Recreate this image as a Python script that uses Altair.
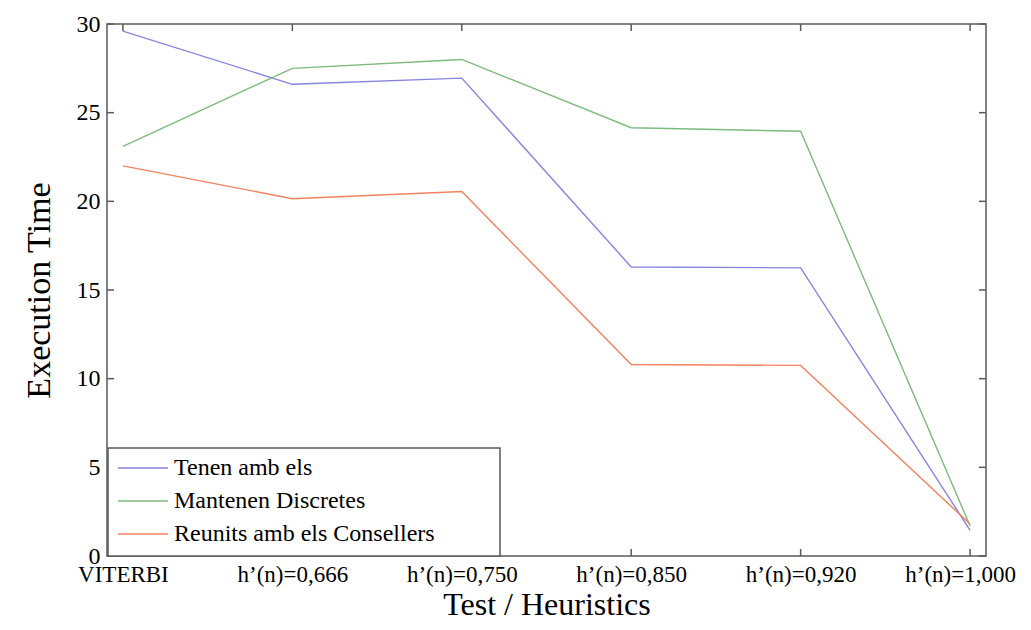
import altair as alt
import pandas as pd

categories = ["VITERBI", "h\u2019(n)=0,666", "h\u2019(n)=0,750", "h\u2019(n)=0,850", "h\u2019(n)=0,920", "h\u2019(n)=1,000"]
series_names = ["Tenen amb els", "Mantenen Discretes", "Reunits amb els Consellers"]
tenen = [29.6, 26.6, 26.95, 16.3, 16.25, 1.45]
mantenen = [23.1, 27.5, 28.0, 24.15, 23.95, 1.7]
reunits = [22.0, 20.15, 20.55, 10.8, 10.75, 1.8]
colors = ["#8585e0", "#7dba7d", "#f3825e"]
yticks = [0, 5, 10, 15, 20, 25, 30]

rows = []
for name, vals in zip(series_names, [tenen, mantenen, reunits]):
    for c, v in zip(categories, vals):
        rows.append({"test": c, "time": v, "series": name})
df = pd.DataFrame(rows)
cat_df = pd.DataFrame({"test": categories})
ytick_df = pd.DataFrame({"v": yticks})

W, H = 879, 532
FONT = "Liberation Serif"
TICK = 7
FRAME = "#595959"

xscale = alt.Scale(type="point", domain=categories, padding=0.094)
yscale = alt.Scale(domain=[0, 30], nice=False)

# legend frame (decoration)
legend_box = alt.Chart(cat_df.head(1)).mark_rect(fill="white", stroke=FRAME, strokeWidth=1.5).encode(
    x=alt.value(1), x2=alt.value(393), y=alt.value(424), y2=alt.value(H))

last_label_test = "datum.value === '" + categories[-1] + "'"

lines = alt.Chart(df).mark_line(strokeWidth=1.4).encode(
    x=alt.X("test:N", scale=xscale, sort=categories,
            axis=alt.Axis(title="Test / Heuristics", labelAngle=0, labelAlign="center",
                          labelBound=False, labelFlush=False, labelOverlap=False,
                          labelOffset={"condition": {"test": last_label_test, "value": -10}, "value": 0},
                          ticks=False, domain=False,
                          labelPadding=18, labelFontSize=23, titleFontSize=32,
                          titleBaseline="alphabetic", titleY=58,
                          labelFont=FONT, titleFont=FONT, titleFontWeight="normal",
                          labelColor="black", titleColor="black")),
    y=alt.Y("time:Q", scale=yscale,
            axis=alt.Axis(title="Execution Time", values=yticks, ticks=False, domain=False,
                          grid=False, labelPadding=7, titlePadding=20, labelFontSize=24,
                          titleFontSize=34, labelFont=FONT, titleFont=FONT,
                          titleFontWeight="normal", labelColor="black", titleColor="black")),
    color=alt.Color("series:N", scale=alt.Scale(domain=series_names, range=colors),
                    legend=alt.Legend(title=None, orient="none", legendX=1, legendY=424,
                                      symbolType="M -1.667 0 L 1.667 0", symbolSize=900,
                                      symbolStrokeWidth=1.5,
                                      labelFont=FONT, labelFontSize=24, labelColor="black",
                                      labelLimit=700, rowPadding=5, padding=4,
                                      symbolOffset=15, labelOffset=15)),
)

top_ticks = alt.Chart(cat_df).mark_rule(color=FRAME, strokeWidth=1.5).encode(
    x=alt.X("test:N", scale=xscale, sort=categories), y=alt.value(0), y2=alt.value(TICK))
bot_ticks = alt.Chart(cat_df).mark_rule(color=FRAME, strokeWidth=1.5).encode(
    x=alt.X("test:N", scale=xscale, sort=categories), y=alt.value(H), y2=alt.value(H - TICK))
left_ticks = alt.Chart(ytick_df).mark_rule(color=FRAME, strokeWidth=1.5).encode(
    y=alt.Y("v:Q", scale=yscale), x=alt.value(0), x2=alt.value(TICK))
right_ticks = alt.Chart(ytick_df).mark_rule(color=FRAME, strokeWidth=1.5).encode(
    y=alt.Y("v:Q", scale=yscale), x=alt.value(W - TICK), x2=alt.value(W))

chart = alt.layer(top_ticks, bot_ticks, left_ticks, right_ticks, lines, legend_box).properties(
    width=W, height=H,
    background="white",
    autosize=alt.AutoSizeParams(type="none"),
    padding={"left": 99, "top": 16, "right": 30, "bottom": 66},
).configure_view(stroke=FRAME, strokeWidth=1.5)

chart.save("out.html", embed_options={"renderer": "svg", "actions": False})
